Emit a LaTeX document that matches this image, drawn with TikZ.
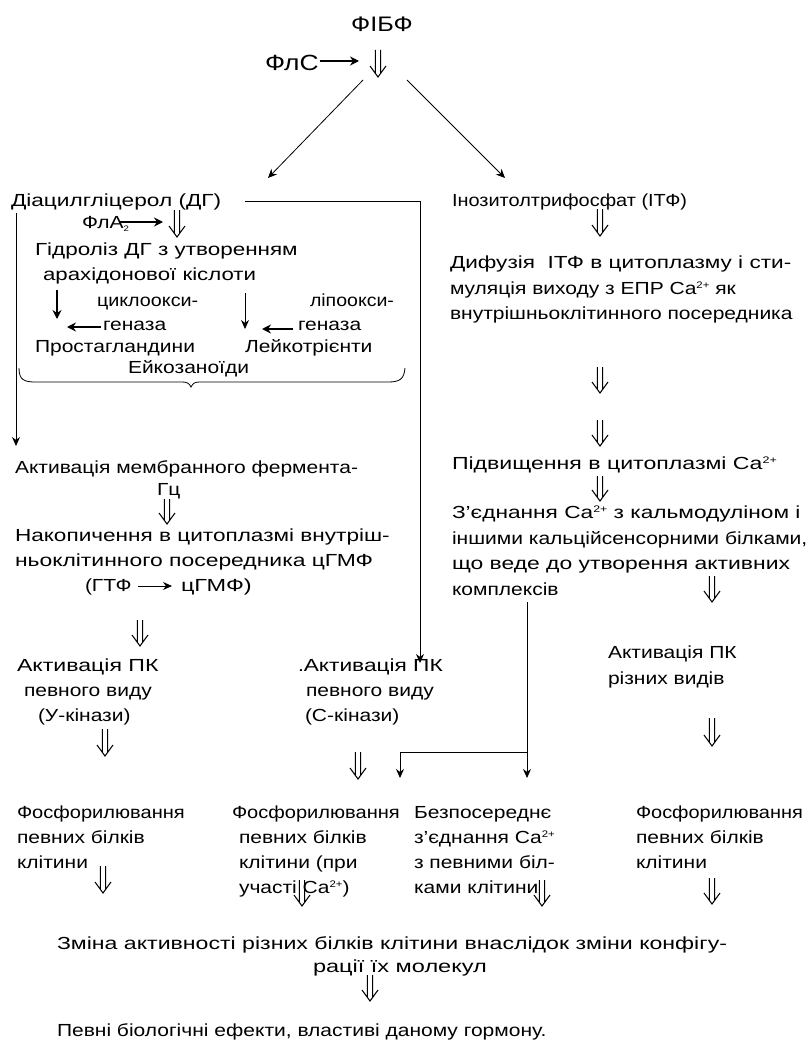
\documentclass[tikz,border=0pt]{standalone}
\usepackage{fontspec}
\usepackage{graphicx}
\setmainfont[FakeStretch=1.2]{Liberation Sans}
\usetikzlibrary{arrows.meta,calc}
\newcommand\wid[2]{\scalebox{#1}[1]{#2}}
\newcommand\capl{Ca\raisebox{5.5pt}{\fontsize{9.5}{9.5}\selectfont 2+}}
\begin{document}
\begin{tikzpicture}[x=1pt,y=-1pt,
  every node/.style={inner sep=0pt, outer sep=0pt, font=\fontsize{17.5}{25}\selectfont},
  tx/.style={anchor=base west},
  big/.style={font=\fontsize{21}{25}\selectfont},
  arr/.style={-{Stealth[length=9pt,width=8pt]}, line width=0.8pt},
  barr/.style={-{Stealth[length=9pt,width=9pt]}, line width=1.6pt},
  dbl/.style={line width=1.05pt, line cap=butt, line join=miter, to path={
    ($(\tikztostart)+(-2.6,0)$) -- ($(\tikztotarget)+(-2.6,-3.5)$)
    ($(\tikztostart)+(2.6,0)$) -- ($(\tikztotarget)+(2.6,-3.5)$)
    ($(\tikztotarget)+(-8,-11)$) -- (\tikztotarget) -- ($(\tikztotarget)+(8,-11)$)}},
  ln/.style={line width=0.8pt}
]
\useasboundingbox[fill=white] (0,0) rectangle (808,1046);

% ---------- top ----------
\node[big, anchor=base] (fibf) at (382,32) {ФІБФ};
\node[tx, font=\fontsize{22}{25}\selectfont] (fls) at (265,71) {ФлС};
\coordinate (d1a) at (378,50); \coordinate (d1b) at (378,77);
\draw[dbl] (d1a) to (d1b);
\coordinate (flsB) at (359,61);
\draw[barr] (fls.east |- flsB) ++(1,0) -- (flsB);
\coordinate (sl1) at (363,80); \coordinate (sr1) at (407,80);
\coordinate (sl2) at (268,178); \coordinate (sr2) at (505,178);
\draw[arr] (sl1) -- (sl2);
\draw[arr] (sr1) -- (sr2);

% ---------- left branch (DG) ----------
\node[tx] (dg) at (11,206) {\wid{1.08}{Діацилгліцерол (ДГ)}};
\coordinate (hA) at (245,201); \coordinate (hB) at (420,201); \coordinate (hC) at (420,663);
\draw[ln] (hA) -- (hB);
\draw[arr] (hB) -- (hC);
\coordinate (vA) at (16,213); \coordinate (vB) at (16,446);
\draw[arr] (vA) -- (vB);

\node[tx] (fla) at (82,228) {ФлА\raisebox{-3pt}{\fontsize{8}{8}\selectfont 2}};
\coordinate (flaA) at (119,222); \coordinate (flaB) at (163,222);
\draw[barr] (flaA) -- (flaB);
\coordinate (d2a) at (177,210); \coordinate (d2b) at (177,237);
\draw[dbl] (d2a) to (d2b);

\node[tx] (hyd1) at (35,255) {\wid{1.07}{Гідроліз ДГ з утворенням}};
\node[tx] (hyd2) at (43,280) {\wid{1.06}{арахідонової кіслоти}};
\coordinate (a1a) at (57,290); \coordinate (a1b) at (57,319);
\draw[barr] (a1a) -- (a1b);
\coordinate (a2a) at (245,293); \coordinate (a2b) at (245,329);
\draw[arr] (a2a) -- (a2b);
\node[tx] (cyc) at (97,306) {\wid{0.94}{циклоокси-}};
\node[tx] (lip) at (310,306) {\wid{0.93}{ліпоокси-}};
\node[tx] (gen1) at (103,330) {геназа};
\node[tx] (gen2) at (298,330) {геназа};
\coordinate (l1a) at (101,327); \coordinate (l1b) at (67,327);
\draw[barr] (l1a) -- (l1b);
\coordinate (l2a) at (293,329); \coordinate (l2b) at (262,329);
\draw[barr] (l2a) -- (l2b);
\node[tx] (pros) at (35,352) {Простагландини};
\node[tx] (leuk) at (245,352) {Лейкотрієнти};
\node[tx] (eico) at (128,373) {Ейкозаноїди};
\draw[ln] (19,368) .. controls (19,380) and (24,382) .. (36,382) -- (182,382)
  .. controls (187,382) and (189,383) .. (191,387)
  .. controls (193,383) and (195,382) .. (200,382) -- (388,382)
  .. controls (400,382) and (404,379) .. (405,368);

\node[tx] (amf) at (15,473) {Активація мембранного фермента-};
\node[tx] (gc) at (157,495) {Гц};
\coordinate (d7a) at (167,499); \coordinate (d7b) at (167,524);
\draw[dbl] (d7a) to (d7b);
\node[tx] (nak1) at (15,541) {\wid{1.075}{Накопичення в цитоплазмі внутріш-}};
\node[tx] (nak2) at (15,566) {\wid{1.09}{ньоклітинного посередника цГМФ}};
\node[tx] (gtf1) at (85,591) {(ГТФ};
\node[tx] (gtf2) at (181,591) {\wid{1.12}{цГМФ)}};
\coordinate (gA) at (138,586); \coordinate (gB) at (172,586);
\draw[arr] (gA) -- (gB);
\coordinate (d9a) at (140,620); \coordinate (d9b) at (140,646);
\draw[dbl] (d9a) to (d9b);

\node[tx] (act1a) at (17,671) {\wid{1.1}{Активація ПК}};
\node[tx] (act1b) at (24,696) {певного виду};
\node[tx] (act1c) at (38,721) {(У-кінази)};
\node[tx] (act2a) at (298,671) {.\wid{1.08}{Активація ПК}};
\node[tx] (act2b) at (306,696) {певного виду};
\node[tx] (act2c) at (305,721) {(С-кінази)};
\coordinate (d11a) at (105,729); \coordinate (d11b) at (105,756);
\draw[dbl] (d11a) to (d11b);
\coordinate (d12a) at (358,752); \coordinate (d12b) at (358,779);
\draw[dbl] (d12a) to (d12b);

% ---------- right branch (ITF) ----------
\node[tx] (itf) at (452,206) {\wid{0.95}{Інозитолтрифосфат (ІТФ)}};
\coordinate (d3a) at (600,209); \coordinate (d3b) at (600,236);
\draw[dbl] (d3a) to (d3b);
\node[tx] (dif1) at (450,268) {\wid{1.075}{Дифузія \ ІТФ в цитоплазму і сти-}};
\node[tx] (dif2) at (450,294) {муляція виходу з ЕПР \capl{} як};
\node[tx] (dif3) at (450,319) {внутрішньоклітинного посередника};
\coordinate (d4a) at (600,367); \coordinate (d4b) at (600,393);
\draw[dbl] (d4a) to (d4b);
\coordinate (d5a) at (600,420); \coordinate (d5b) at (600,446);
\draw[dbl] (d5a) to (d5b);
\node[tx] (pid) at (452,469) {\wid{1.1}{Підвищення в цитоплазмі \capl}};
\coordinate (d6a) at (600,476); \coordinate (d6b) at (600,501);
\draw[dbl] (d6a) to (d6b);
\node[tx] (zed1) at (452,518) {\wid{1.08}{З'єднання \capl{} з кальмодуліном і}};
\node[tx] (zed2) at (452,544) {іншими кальційсенсорними білками,};
\node[tx] (zed3) at (452,569) {\wid{1.09}{що веде до утворення активних}};
\node[tx] (zed4) at (452,595) {комплексів};
\coordinate (d8a) at (712,576); \coordinate (d8b) at (712,602);
\draw[dbl] (d8a) to (d8b);
\node[tx] (act3a) at (608,658) {Активація ПК};
\node[tx] (act3b) at (608,684) {різних видів};
\coordinate (d10a) at (712,718); \coordinate (d10b) at (712,746);
\draw[dbl] (d10a) to (d10b);

% Ca branch
\coordinate (kA) at (527,602); \coordinate (kB) at (527,752);
\coordinate (kC) at (400,752);
\coordinate (kD) at (400,778); \coordinate (kE) at (527,778);
\draw[ln] (kA) -- (kB) -- (kC);
\draw[arr] (kC) -- (kD);
\draw[arr] (kB) -- (kE);

% ---------- bottom row ----------
\node[tx] (ph1a) at (17,818) {\wid{0.955}{Фосфорилювання}};
\node[tx] (ph1b) at (17,843) {певних білків};
\node[tx] (ph1c) at (17,868) {клітини};
\node[tx] (ph2a) at (232,818) {\wid{0.955}{Фосфорилювання}};
\node[tx] (ph2b) at (239,843) {певних білків};
\node[tx] (ph2c) at (239,868) {клітини (при};
\node[tx] (ph2d) at (239,893) {участі \capl)};
\node[tx] (bez1) at (414,818) {Безпосереднє};
\node[tx] (bez2) at (414,843) {з'єднання \capl};
\node[tx] (bez3) at (414,868) {з певними біл-};
\node[tx] (bez4) at (414,893) {ками клітини};
\node[tx] (ph4a) at (636,818) {\wid{0.95}{Фосфорилювання}};
\node[tx] (ph4b) at (636,843) {певних білків};
\node[tx] (ph4c) at (636,868) {клітини};

\coordinate (d13a) at (103,866); \coordinate (d13b) at (103,893);
\draw[dbl] (d13a) to (d13b);
\coordinate (d14a) at (302,880); \coordinate (d14b) at (302,906);
\draw[dbl] (d14a) to (d14b);
\coordinate (d15a) at (542,880); \coordinate (d15b) at (542,906);
\draw[dbl] (d15a) to (d15b);
\coordinate (d16a) at (712,878); \coordinate (d16b) at (712,904);
\draw[dbl] (d16a) to (d16b);

\node[tx] (zm1) at (57,949) {\wid{1.1}{Зміна активності різних білків клітини внаслідок зміни конфігу-}};
\node[tx] (zm2) at (313,972) {\wid{1.12}{рації їх молекул}};
\coordinate (d17a) at (370,975); \coordinate (d17b) at (370,1001);
\draw[dbl] (d17a) to (d17b);
\node[tx] (pev) at (57,1036) {Певні біологічні ефекти, властиві даному гормону.};
\end{tikzpicture}
\end{document}
